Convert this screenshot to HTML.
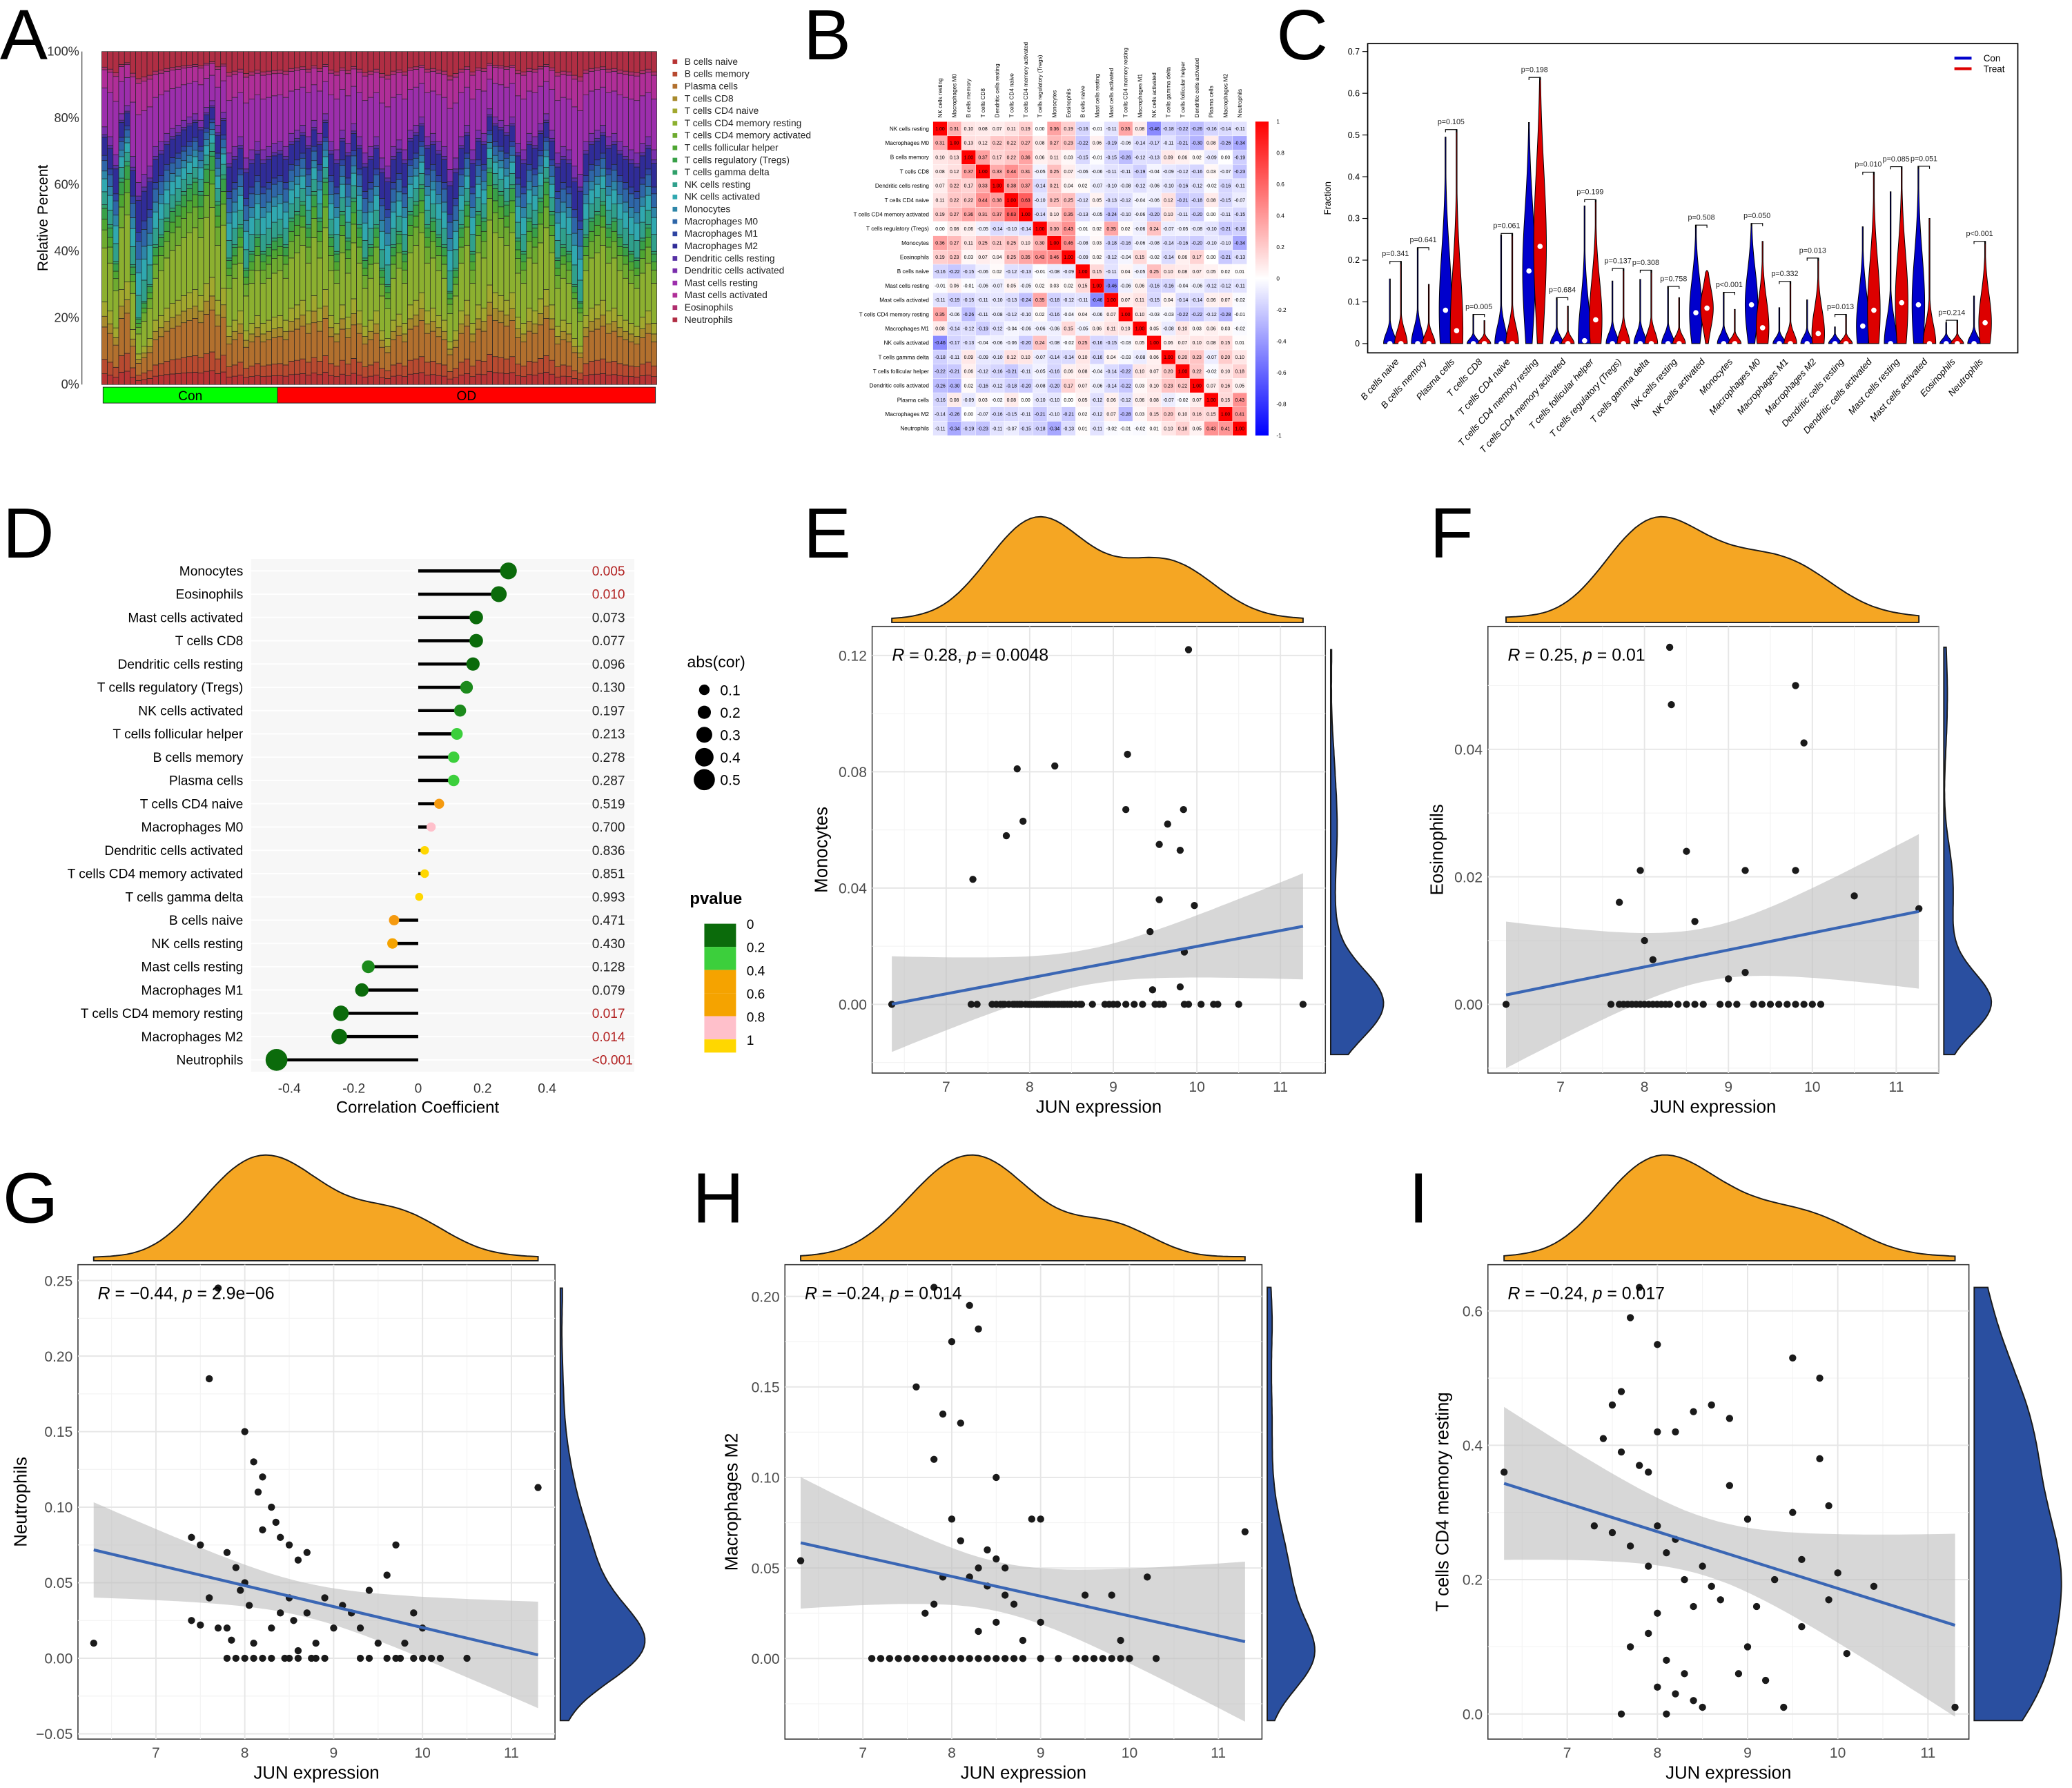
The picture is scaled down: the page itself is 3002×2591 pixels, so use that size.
<!DOCTYPE html>
<html><head><meta charset="utf-8"><title>Immune infiltration figure</title>
<style>
html,body{margin:0;padding:0;background:#fff;}
svg{display:block;font-family:"Liberation Sans",Arial,sans-serif;}
</style></head>
<body>
<svg id="fig" xmlns="http://www.w3.org/2000/svg" width="3002" height="2591" viewBox="0 0 1568 1353" preserveAspectRatio="none">
<rect x="0" y="0" width="1568" height="1353" fill="#fff"/>
<g font-size="54" fill="#000">
<text x="0" y="45">A</text>
<text x="608" y="45">B</text>
<text x="966" y="45">C</text>
<text x="2" y="422">D</text>
<text x="608" y="422">E</text>
<text x="1082" y="422">F</text>
<text x="2" y="925">G</text>
<text x="524" y="925">H</text>
<text x="1066" y="925">I</text>
</g>
</svg>
<script>
// ================= DATA =================
const cellTypes = ["B cells naive","B cells memory","Plasma cells","T cells CD8","T cells CD4 naive","T cells CD4 memory resting","T cells CD4 memory activated","T cells follicular helper","T cells regulatory (Tregs)","T cells gamma delta","NK cells resting","NK cells activated","Monocytes","Macrophages M0","Macrophages M1","Macrophages M2","Dendritic cells resting","Dendritic cells activated","Mast cells resting","Mast cells activated","Eosinophils","Neutrophils"];
const conShare = [54,48,37,62,67,36,20,25,30,42,45,50,53,55,58,60,62,58,66,70,55,63,38,42,48,35,40,45,40,42,44];
const odShare = [45,42,50,52,55,48,58,50,62,45,40,52,44,56,48,38,42,48,35,30,42,46,40,52,55,60,48,50,45,42,28,35,48,55,40,52,50,65,60,58,55,60,44,40,50,48,56,62,52,38,42,40,30,25,45,50,52,55,48,50,45,42,40,38,44,48,40];
const lowerWeights = [3,4,9,3,4,15,5,3,3,1];
const upperWeights = [5,5,3,4,2,7,1,3,15,7,1,6];
const corrLabels = ["NK cells resting","Macrophages M0","B cells memory","T cells CD8","Dendritic cells resting","T cells CD4 naive","T cells CD4 memory activated","T cells regulatory (Tregs)","Monocytes","Eosinophils","B cells naive","Mast cells resting","Mast cells activated","T cells CD4 memory resting","Macrophages M1","NK cells activated","T cells gamma delta","T cells follicular helper","Dendritic cells activated","Plasma cells","Macrophages M2","Neutrophils"];
const corrLower = [[],[0.31],[0.10,0.13],[0.08,0.12,0.37],[0.07,0.22,0.17,0.33],[0.11,0.22,0.22,0.44,0.38],[0.19,0.27,0.36,0.31,0.37,0.63],[0.00,0.08,0.06,-0.05,-0.14,-0.10,-0.14],[0.36,0.27,0.11,0.25,0.21,0.25,0.10,0.30],[0.19,0.23,0.03,0.07,0.04,0.25,0.35,0.43,0.46],[-0.16,-0.22,-0.15,-0.06,0.02,-0.12,-0.13,-0.01,-0.08,-0.09],[-0.01,0.06,-0.01,-0.06,-0.07,0.05,-0.05,0.02,0.03,0.02,0.15],[-0.11,-0.19,-0.15,-0.11,-0.10,-0.13,-0.24,0.35,-0.18,-0.12,-0.11,-0.46],[0.35,-0.06,-0.26,-0.11,-0.08,-0.12,-0.10,0.02,-0.16,-0.04,0.04,-0.06,0.07],[0.08,-0.14,-0.12,-0.19,-0.12,-0.04,-0.06,-0.06,-0.06,0.15,-0.05,0.06,0.11,0.10],[-0.46,-0.17,-0.13,-0.04,-0.06,-0.06,-0.20,0.24,-0.08,-0.02,0.25,-0.16,-0.15,-0.03,0.05],[-0.18,-0.11,0.09,-0.09,-0.10,0.12,0.10,-0.07,-0.14,-0.14,0.10,-0.16,0.04,-0.03,-0.08,0.06],[-0.22,-0.21,0.06,-0.12,-0.16,-0.21,-0.11,-0.05,-0.16,0.06,0.08,-0.04,-0.14,-0.22,0.10,0.07,0.20],[-0.26,-0.30,0.02,-0.16,-0.12,-0.18,-0.20,-0.08,-0.20,0.17,0.07,-0.06,-0.14,-0.22,0.03,0.10,0.23,0.22],[-0.16,0.08,-0.09,0.03,-0.02,0.08,0.00,-0.10,-0.10,0.00,0.05,-0.12,0.06,-0.12,0.06,0.08,-0.07,-0.02,0.07],[-0.14,-0.26,0.00,-0.07,-0.16,-0.15,-0.11,-0.21,-0.10,-0.21,0.02,-0.12,0.07,-0.28,0.03,0.15,0.20,0.10,0.16,0.15],[-0.11,-0.34,-0.19,-0.23,-0.11,-0.07,-0.15,-0.18,-0.34,-0.13,0.01,-0.11,-0.02,-0.01,-0.02,0.01,0.10,0.18,0.05,0.43,0.41]];
const cbTicks = [1,0.8,0.6,0.4,0.2,0,-0.2,-0.4,-0.6,-0.8,-1];
const conMax = [0.155,0.23,0.495,0.07,0.26,0.53,0.11,0.33,0.15,0.154,0.137,0.284,0.123,0.288,0.086,0.105,0.04,0.28,0.364,0.425,0.05,0.114];
const treatMax = [0.197,0.142,0.513,0.055,0.264,0.638,0.09,0.345,0.18,0.176,0.11,0.175,0.082,0.245,0.149,0.205,0.07,0.411,0.424,0.30,0.056,0.245];
const conMed = [0,0,0.08,0,0,0.174,0,0.007,0,0,0,0.074,0,0.093,0,0,0,0.042,0,0.093,0,0];
const treatMed = [0,0,0.031,0,0,0.233,0,0.057,0,0,0,0.085,0,0.038,0,0.024,0,0.08,0.098,0,0,0.05];
const pLabels = ["p=0.341","p=0.641","p=0.105","p=0.005","p=0.061","p=0.198","p=0.684","p=0.199","p=0.137","p=0.308","p=0.758","p=0.508","p<0.001","p=0.050","p=0.332","p=0.013","p=0.013","p=0.010","p=0.085","p=0.051","p=0.214","p<0.001"];
const cTicks = [0,0.1,0.2,0.3,0.4,0.5,0.6,0.7];
const lolNames = ["Monocytes","Eosinophils","Mast cells activated","T cells CD8","Dendritic cells resting","T cells regulatory (Tregs)","NK cells activated","T cells follicular helper","B cells memory","Plasma cells","T cells CD4 naive","Macrophages M0","Dendritic cells activated","T cells CD4 memory activated","T cells gamma delta","B cells naive","NK cells resting","Mast cells resting","Macrophages M1","T cells CD4 memory resting","Macrophages M2","Neutrophils"];
const lolCor = [0.28,0.25,0.18,0.18,0.17,0.15,0.13,0.12,0.11,0.11,0.065,0.04,0.02,0.02,0.003,-0.075,-0.08,-0.155,-0.175,-0.24,-0.245,-0.44];
const lolP = [0.005,0.010,0.073,0.077,0.096,0.130,0.197,0.213,0.278,0.287,0.519,0.700,0.836,0.851,0.993,0.471,0.430,0.128,0.079,0.017,0.014,0.0005];
const lolPText = ["0.005","0.010","0.073","0.077","0.096","0.130","0.197","0.213","0.278","0.287","0.519","0.700","0.836","0.851","0.993","0.471","0.430","0.128","0.079","0.017","0.014","<0.001"];
const lolTicks = [-0.4,-0.2,0,0.2,0.4];
const eX = [6.35,11.27,7.3,7.37,7.55,7.6,7.65,7.7,7.75,7.8,7.85,7.9,7.95,8.0,8.05,8.1,8.15,8.2,8.25,8.3,8.35,8.4,8.45,8.5,8.55,8.6,8.75,8.9,8.95,9.0,9.05,9.15,9.25,9.35,9.5,9.55,9.6,9.85,9.9,10.05,10.2,10.25,10.5,7.32,7.72,7.85,7.92,8.3,9.15,9.17,9.55,9.65,9.8,9.84,9.55,9.97,9.44,9.85,9.47,9.8,9.9,7.88,7.98,8.02,8.08,8.12,8.18,8.22,8.28,8.33,8.38,8.42,7.82,7.68,8.48,8.62];
const eY = [0,0,0,0,0,0,0,0,0,0,0,0,0,0,0,0,0,0,0,0,0,0,0,0,0,0,0,0,0,0,0,0,0,0,0,0,0,0,0,0,0,0,0,0.043,0.058,0.081,0.063,0.082,0.067,0.086,0.055,0.062,0.053,0.067,0.036,0.034,0.025,0.018,0.005,0.006,0.122,0,0,0,0,0,0,0,0,0,0,0,0,0,0,0];
const fX = [6.35,7.6,7.7,7.75,7.8,7.85,7.9,7.95,8.0,8.05,8.1,8.15,8.2,8.25,8.3,8.4,8.5,8.6,8.7,8.9,9.0,9.1,9.3,9.4,9.5,9.6,9.7,9.8,9.9,10.0,10.1,7.7,7.95,8.0,8.1,8.3,8.32,8.5,8.6,9.2,9.8,9.9,9.8,10.5,11.27,9.0,9.2];
const fY = [0,0,0,0,0,0,0,0,0,0,0,0,0,0,0,0,0,0,0,0,0,0,0,0,0,0,0,0,0,0,0,0.016,0.021,0.01,0.007,0.056,0.047,0.024,0.013,0.021,0.05,0.041,0.021,0.017,0.015,0.004,0.005];
const gX = [6.3,11.3,7.6,7.7,8.0,7.5,7.8,7.9,7.4,8.2,8.1,8.15,8.3,8.35,8.5,8.4,8.6,8.7,8.2,8.0,7.95,8.05,7.6,7.4,7.5,7.7,7.8,7.85,8.1,8.3,8.4,8.5,8.55,8.7,8.9,9.1,9.2,9.3,9.5,9.7,9.6,9.9,10.0,9.8,9.4,9.0,8.8,8.6,7.8,7.9,8.0,8.1,8.2,8.3,8.45,8.5,8.6,8.75,8.8,8.9,9.3,9.4,9.6,9.7,9.75,9.9,10.0,10.1,10.2,10.5];
const gY = [0.01,0.113,0.185,0.245,0.15,0.075,0.07,0.06,0.08,0.12,0.13,0.11,0.1,0.09,0.075,0.08,0.065,0.07,0.085,0.05,0.045,0.035,0.04,0.025,0.022,0.02,0.02,0.012,0.01,0.02,0.03,0.04,0.025,0.03,0.04,0.035,0.03,0.02,0.01,0.075,0.055,0.03,0.02,0.01,0.045,0.02,0.01,0.005,0,0,0,0,0,0,0,0,0,0,0,0,0,0,0,0,0,0,0,0,0,0];
const hX = [6.3,11.3,7.6,7.8,8.0,8.3,8.2,7.9,8.1,7.8,8.5,8.0,8.1,8.4,8.5,8.6,8.3,7.9,8.2,8.4,8.6,8.7,8.5,8.3,7.7,7.8,8.9,9.0,9.5,9.8,10.2,9.9,9.0,8.8,7.1,7.2,7.3,7.4,7.5,7.6,7.7,7.8,7.9,8.0,8.1,8.2,8.3,8.4,8.5,8.6,8.7,8.8,9.0,9.2,9.4,9.5,9.6,9.7,9.8,9.9,10.0,10.3];
const hY = [0.054,0.07,0.15,0.205,0.175,0.182,0.195,0.135,0.13,0.11,0.10,0.077,0.065,0.06,0.055,0.05,0.05,0.045,0.045,0.04,0.035,0.03,0.02,0.015,0.025,0.03,0.077,0.077,0.035,0.035,0.045,0.01,0.02,0.01,0,0,0,0,0,0,0,0,0,0,0,0,0,0,0,0,0,0,0,0,0,0,0,0,0,0,0,0];
const iX = [6.3,11.3,7.8,7.7,8.0,7.6,7.5,7.4,7.6,7.8,7.9,8.0,8.2,8.4,8.6,8.8,7.3,7.5,7.7,7.9,8.0,8.1,8.2,8.3,8.5,8.6,8.7,8.4,8.0,7.9,7.7,8.1,8.3,8.0,8.2,8.4,8.5,7.6,8.1,8.9,9.0,9.1,9.3,9.5,9.5,9.8,9.8,9.9,10.0,10.4,9.9,9.6,10.1,9.2,9.4,9.6,9.0,8.8];
const iY = [0.36,0.01,0.635,0.59,0.55,0.48,0.46,0.41,0.39,0.37,0.36,0.42,0.42,0.45,0.46,0.44,0.28,0.27,0.25,0.22,0.28,0.24,0.26,0.2,0.22,0.19,0.17,0.16,0.15,0.12,0.1,0.08,0.06,0.04,0.03,0.02,0.01,0,0,0.06,0.1,0.16,0.2,0.3,0.53,0.5,0.38,0.31,0.21,0.19,0.17,0.13,0.09,0.05,0.01,0.23,0.29,0.34];
const xTicksJun = [7,8,9,10,11];
const eYTicks = [0,0.04,0.08,0.12];
const fYTicks = [0,0.02,0.04];
const gYTicks = [-0.05,0,0.05,0.10,0.15,0.20,0.25];
const hYTicks = [0,0.05,0.10,0.15,0.20];
const iYTicks = [0,0.2,0.4,0.6];

// ================= HELPERS =================
const NS = 'http://www.w3.org/2000/svg';
const svg = document.getElementById('fig');
function mk(tag, attrs, parent, text) {
  const e = document.createElementNS(NS, tag);
  for (const k in attrs) e.setAttribute(k, attrs[k]);
  if (text !== undefined) e.textContent = text;
  (parent || svg).appendChild(e);
  return e;
}
function lin(d0, d1, r0, r1) { return v => r0 + (v - d0) * (r1 - r0) / (d1 - d0); }
function fmt(v){ return (Math.round(v*100)/100).toFixed(2); }

// ================= PANEL A =================
const typeColors = ["#b83434","#b84a30","#b2702e","#a88a2c","#a2a82e","#8cb030","#6eab30","#4ea632","#38a048","#30a06a","#30a08c","#30a8b0","#2e86a8","#2e66a8","#2e44a2","#302c98","#5630a4","#7a2eac","#9c2eac","#b02e98","#b02e6e","#b02e44"];
const gA = mk('g', {});


const aX0 = 77, aX1 = 497;
const aY = lin(0, 100, 291, 39);
const samples = conShare.concat(odShare);
const bw = (aX1 - aX0) / samples.length;
const lowSum = lowerWeights.reduce((a,b)=>a+b,0), upSum = upperWeights.reduce((a,b)=>a+b,0);
samples.forEach((share, si) => {
  let cum = 0;
  const parts = lowerWeights.map(w => w / lowSum * share).concat(upperWeights.map(w => w / upSum * (100 - share)));
  parts.forEach((p, ti) => {
    const r = mk('rect', {x: aX0 + si*bw, y: aY(cum + p), width: bw, height: aY(cum) - aY(cum + p), fill: typeColors[ti], stroke: '#222', 'stroke-width': 0.35}, gA);
    
    
    cum += p;
  });
});
[0,20,40,60,80,100].forEach(t => {
  const tx = mk('text', {x: 60, y: aY(t)+3, 'font-size': 9.5, 'text-anchor': 'end', fill: '#333'}, gA, t + '%');
  
  
});
const aAxis = mk('line', {x1: 62, y1: 39, x2: 62, y2: 291, stroke: '#333', 'stroke-width': 0.6}, gA);


const aYT = mk('text', {x: 36, y: 165, 'font-size': 11, 'text-anchor': 'middle', transform: 'rotate(-90 36 165)'}, gA, 'Relative Percent');


const conBar = mk('rect', {x: 78, y: 293, width: 132, height: 12, fill: '#00ff00', stroke: '#222', 'stroke-width': 0.5}, gA);


const odBar = mk('rect', {x: 210, y: 293, width: 286, height: 12, fill: '#ff0000', stroke: '#222', 'stroke-width': 0.5}, gA);


const conT = mk('text', {x: 144, y: 303, 'font-size': 10, 'text-anchor': 'middle'}, gA, 'Con');


const odT = mk('text', {x: 353, y: 303, 'font-size': 10, 'text-anchor': 'middle'}, gA, 'OD');


cellTypes.forEach((n, i) => {
  const y = 48 + i * 9.3;
  const sq = mk('rect', {x: 509, y: y - 3, width: 3.5, height: 3.5, fill: typeColors[i]}, gA);
  
  
  const lt = mk('text', {x: 518, y: y + 1, 'font-size': 7.2, fill: '#222'}, gA, n);
  
  
});

// ================= PANEL B =================
const gB = mk('g', {});


const bx0 = 706, by0 = 92, cs = 10.8;
function corrAt(i, j) {
  if (i === j) return 1;
  const a = Math.max(i,j), b = Math.min(i,j);
  const v = corrLower[a] && corrLower[a][b];
  return v === undefined ? 0 : v;
}
function corrColor(v) {
  const t = Math.min(1, Math.abs(v));
  const c = Math.round(255 * (1 - t));
  return v >= 0 ? `rgb(255,${c},${c})` : `rgb(${c},${c},255)`;
}
corrLabels.forEach((n, i) => {
  const rl = mk('text', {x: bx0 - 3, y: by0 + i*cs + cs/2 + 1.5, 'font-size': 4.3, 'text-anchor': 'end'}, gB, n);
  
  
  const cx = bx0 + i*cs + cs/2 + 1.5;
  const cl = mk('text', {x: cx, y: by0 - 3, 'font-size': 4.3, 'text-anchor': 'start', transform: `rotate(-90 ${cx} ${by0-3})`}, gB, n);
  
  
  corrLabels.forEach((m, j) => {
    const v = corrAt(i, j);
    const cell = mk('rect', {x: bx0 + j*cs, y: by0 + i*cs, width: cs, height: cs, fill: corrColor(v), stroke: '#fff', 'stroke-width': 0.2}, gB);
    
    
    const vt = mk('text', {x: bx0 + j*cs + cs/2, y: by0 + i*cs + cs/2 + 1.3, 'font-size': 3.6, 'text-anchor': 'middle', fill: '#000'}, gB, fmt(v));
    
    
  });
});
const defs = mk('defs', {});
const lg = mk('linearGradient', {id: 'cbgrad', x1: 0, y1: 0, x2: 0, y2: 1}, defs);
mk('stop', {offset: '0', 'stop-color': '#ff0000'}, lg);
mk('stop', {offset: '0.5', 'stop-color': '#ffffff'}, lg);
mk('stop', {offset: '1', 'stop-color': '#0000ff'}, lg);
const cbY = lin(1, -1, by0, by0 + 22*cs);
const cb = mk('rect', {x: 950, y: by0, width: 10, height: 22*cs, fill: 'url(#cbgrad)'}, gB);


cbTicks.forEach(t => {
  const ct = mk('text', {x: 966, y: cbY(t) + 1.5, 'font-size': 4.3}, gB, String(t));
  
  
});

// ================= PANEL C =================
const gC = mk('g', {});


const cY = lin(0, 0.7, 260, 39);
const cX = i => 1056 + i * 21.05;
const cBox = mk('rect', {x: 1035, y: 33, width: 492, height: 234, fill: 'none', stroke: '#000', 'stroke-width': 0.9}, gC);


cTicks.forEach(t => {
  const tl = mk('line', {x1: 1031, x2: 1035, y1: cY(t), y2: cY(t), stroke: '#000', 'stroke-width': 0.6}, gC);
  
  
  const tt = mk('text', {x: 1029, y: cY(t) + 2.2, 'font-size': 6.5, 'text-anchor': 'end'}, gC, String(t));
  
  
});
const cYT = mk('text', {x: 1007, y: 150, 'font-size': 7, 'text-anchor': 'middle', transform: 'rotate(-90 1007 150)'}, gC, 'Fraction');


function violinPath(cx, maxV, med) {
  const W = 4.8, sig = med > 0 ? Math.max(0.4*maxV, 0.04) : Math.max(0.22*maxV, 0.015);
  const n = 40, left = [], right = [];
  for (let k = 0; k <= n; k++) {
    const v = maxV * k / n;
    const w = Math.max(0.35, W * Math.exp(-Math.pow((v - med)/sig, 2)) * (k === n ? 0 : 1));
    right.push([cx + w, cY(v)]); left.push([cx - w, cY(v)]);
  }
  const pts = right.concat(left.reverse());
  return 'M' + pts.map(p => p[0].toFixed(2)+','+p[1].toFixed(2)).join('L') + 'Z';
}
cellTypes.forEach((n, i) => {
  const bxC = cX(i) - 4.2, bxT = cX(i) + 4.2;
  const vc = mk('path', {d: violinPath(bxC, conMax[i], conMed[i]), fill: '#0000cc', stroke: '#000', 'stroke-width': 0.5}, gC);
  
  
  const vt = mk('path', {d: violinPath(bxT, treatMax[i], treatMed[i]), fill: '#dd0000', stroke: '#000', 'stroke-width': 0.5}, gC);
  
  
  const mc = mk('circle', {cx: bxC, cy: cY(conMed[i]), r: 2, fill: '#fff'}, gC);
  
  
  const mt = mk('circle', {cx: bxT, cy: cY(treatMed[i]), r: 2, fill: '#fff'}, gC);
  
  
  const top = cY(Math.max(conMax[i], treatMax[i]));
  const br = mk('path', {d: `M${bxC},${top+2}L${bxC},${top}L${bxT},${top}L${bxT},${top+2}`, fill: 'none', stroke: '#000', 'stroke-width': 0.6}, gC);
  
  
  const pt = mk('text', {x: cX(i), y: top - 4, 'font-size': 5.6, 'text-anchor': 'middle', fill: '#222'}, gC, pLabels[i]);
  
  
  const xl = mk('text', {x: cX(i) + 3, y: 274, 'font-size': 7, 'font-style': 'italic', 'text-anchor': 'end', transform: `rotate(-48 ${cX(i)+3} 274)`}, gC, n);
  
  
});
const lgC1 = mk('line', {x1: 1479, x2: 1492, y1: 44, y2: 44, stroke: '#0000cc', 'stroke-width': 2.2}, gC);


const lgC2 = mk('line', {x1: 1479, x2: 1492, y1: 52, y2: 52, stroke: '#dd0000', 'stroke-width': 2.2}, gC);


const lgCt1 = mk('text', {x: 1501, y: 46.5, 'font-size': 7}, gC, 'Con');


const lgCt2 = mk('text', {x: 1501, y: 54.5, 'font-size': 7}, gC, 'Treat');



// ================= PANEL D =================
const gD = mk('g', {});


const dX = lin(-0.4, 0.4, 219, 414);
const dY = i => 432 + i * 17.62;
const dBg = mk('rect', {x: 190, y: 423, width: 290, height: 388, fill: '#f7f7f7'}, gD);


function pColor(p) {
  if (p < 0.1) return '#0b6b0b';
  if (p < 0.2) return '#1c8a1c';
  if (p < 0.3) return '#3ccf3c';
  if (p < 0.45) return '#f5a300';
  if (p < 0.6) return '#f59a10';
  if (p < 0.75) return '#ffc0cb';
  return '#ffd700';
}
lolNames.forEach((n, i) => {
  const gl = mk('line', {x1: 190, x2: 480, y1: dY(i), y2: dY(i), stroke: '#fff', 'stroke-width': 1}, gD);
  
  
  const st = mk('line', {x1: dX(0), x2: dX(lolCor[i]), y1: dY(i), y2: dY(i), stroke: '#000', 'stroke-width': 2.4}, gD);
  
  
  const r = 3 + Math.abs(lolCor[i]) * 12;
  const dot = mk('circle', {cx: dX(lolCor[i]), cy: dY(i), r: r, fill: pColor(lolP[i])}, gD);
  
  
  const lb = mk('text', {x: 184, y: dY(i) + 3.5, 'font-size': 10, 'text-anchor': 'end'}, gD, n);
  
  
  const pv = mk('text', {x: 448, y: dY(i) + 3.5, 'font-size': 10, fill: lolP[i] < 0.05 ? '#b22222' : '#222'}, gD, lolPText[i]);
  
  
});
lolTicks.forEach(t => {
  const tt = mk('text', {x: dX(t), y: 827, 'font-size': 10, 'text-anchor': 'middle', fill: '#333'}, gD, String(t));
  
  
});
const dXT = mk('text', {x: 316, y: 842, 'font-size': 12.5, 'text-anchor': 'middle'}, gD, 'Correlation Coefficient');


const sizeLegT = mk('text', {x: 520, y: 505, 'font-size': 12}, gD, 'abs(cor)');


[0.1,0.2,0.3,0.4,0.5].forEach((s, k) => {
  const y = 522 + k * 17;
  const c = mk('circle', {cx: 533, cy: y, r: 3 + s*10, fill: '#000'}, gD);
  
  
  const t = mk('text', {x: 545, y: y + 4, 'font-size': 11}, gD, String(s));
  
  
});
const pLegT = mk('text', {x: 522, y: 684, 'font-size': 12.5, 'font-weight': 'bold'}, gD, 'pvalue');


const pCols = ['#0b6b0b','#3ccf3c','#f5a300','#f5a300','#ffc0cb','#ffd700'];
pCols.forEach((c, k) => {
  const r = mk('rect', {x: 533, y: 699 + k*17.5, width: 24, height: k===5?10:17.5, fill: c}, gD);
  
  
});
[0,0.2,0.4,0.6,0.8,1].forEach((v, k) => {
  const t = mk('text', {x: 565, y: 703 + k*17.5, 'font-size': 10}, gD, String(v));
  
  
});

// ================= SCATTER PANELS =================
function kde(vals, bw, x) { let s = 0; for (const v of vals) { const z = (x - v)/bw; s += Math.exp(-0.5*z*z); } return s; }
function silverman(vals) {
  const n = vals.length, m = vals.reduce((a,b)=>a+b,0)/n;
  const sd = Math.sqrt(vals.reduce((a,b)=>a+(b-m)*(b-m),0)/(n-1));
  const s = vals.slice().sort((a,b)=>a-b);
  const iqr = s[Math.floor(0.75*n)] - s[Math.floor(0.25*n)];
  return 0.9 * Math.min(sd, iqr/1.34 || sd) * Math.pow(n, -0.2);
}
function scatterPanel(cfg) {
  const g = mk('g', {});
  
  
  const X = lin(7, 11, cfg.x7, cfg.x11), Y = lin(cfg.yt[0], cfg.yt[cfg.yt.length-1], cfg.yb, cfg.ytop);
  const frame = mk('rect', {x: cfg.x1, y: cfg.y1, width: cfg.x2-cfg.x1, height: cfg.y2-cfg.y1, fill: '#fff', stroke: '#333', 'stroke-width': 0.8}, g);
  
  
  const step = cfg.yt[1] - cfg.yt[0];
  for (let v = 6.5; v <= 11.5; v += 1) if (X(v) > cfg.x1 && X(v) < cfg.x2) {
    const m = mk('line', {x1: X(v), x2: X(v), y1: cfg.y1, y2: cfg.y2, stroke: '#f3f3f3', 'stroke-width': 0.6}, g);
    
    
  }
  for (let k = -1; k < cfg.yt.length; k++) { const v = cfg.yt[0] + (k+0.5)*step; if (Y(v) > cfg.y1 && Y(v) < cfg.y2) {
    const m = mk('line', {x1: cfg.x1, x2: cfg.x2, y1: Y(v), y2: Y(v), stroke: '#f3f3f3', 'stroke-width': 0.6}, g);
    
    
  } }
  xTicksJun.forEach(t => {
    const l = mk('line', {x1: X(t), x2: X(t), y1: cfg.y1, y2: cfg.y2, stroke: '#e6e6e6', 'stroke-width': 1}, g);
    
    
    const tt = mk('text', {x: X(t), y: cfg.y2 + 14, 'font-size': 11, 'text-anchor': 'middle', fill: '#4d4d4d'}, g, String(t));
    
    
  });
  cfg.yt.forEach(t => {
    const l = mk('line', {x1: cfg.x1, x2: cfg.x2, y1: Y(t), y2: Y(t), stroke: '#e6e6e6', 'stroke-width': 1}, g);
    
    
    const tt = mk('text', {x: cfg.x1 - 4, y: Y(t) + 4, 'font-size': 11, 'text-anchor': 'end', fill: '#4d4d4d'}, g, cfg.fmt(t));
    
    
  });
  const xs = cfg.xs, ys = cfg.ys, n = xs.length;
  const mx = xs.reduce((a,b)=>a+b,0)/n, my = ys.reduce((a,b)=>a+b,0)/n;
  let sxx = 0, sxy = 0; xs.forEach((x,k)=>{ sxx += (x-mx)*(x-mx); sxy += (x-mx)*(ys[k]-my); });
  const b = sxy/sxx, a = my - b*mx;
  let sse = 0; xs.forEach((x,k)=>{ const e = ys[k]-(a+b*x); sse += e*e; });
  const s = Math.sqrt(sse/(n-2));
  const xmin = Math.min(...xs), xmax = Math.max(...xs);
  const up = [], lo = [];
  for (let k = 0; k <= 40; k++) { const x = xmin + (xmax-xmin)*k/40; const se = 1.98*s*Math.sqrt(1/n + (x-mx)*(x-mx)/sxx); up.push([X(x), Y(a+b*x+se)]); lo.push([X(x), Y(a+b*x-se)]); }
  const band = mk('path', {d: 'M' + up.concat(lo.reverse()).map(p=>p[0].toFixed(1)+','+p[1].toFixed(1)).join('L') + 'Z', fill: '#bdbdbd', 'fill-opacity': 0.6}, g);
  
  
  xs.forEach((x, k) => {
    const c = mk('circle', {cx: X(x), cy: Y(ys[k]), r: 2.7, fill: '#1a1a1a'}, g);
    
    
  });
  const fl = mk('line', {x1: X(xmin), y1: Y(a+b*xmin), x2: X(xmax), y2: Y(a+b*xmax), stroke: '#3a66b4', 'stroke-width': 2.2}, g);
  
  
  const st = mk('text', {x: cfg.x1 + 15, y: cfg.y1 + 26, 'font-size': 13}, g);
  
  
  mk('tspan', {'font-style': 'italic'}, st, 'R');
  mk('tspan', {}, st, ' = ' + cfg.r + ', ');
  mk('tspan', {'font-style': 'italic'}, st, 'p');
  mk('tspan', {}, st, ' = ' + cfg.p);
  const xt = mk('text', {x: (cfg.x1+cfg.x2)/2, y: cfg.y2 + 30, 'font-size': 13.5, 'text-anchor': 'middle'}, g, 'JUN expression');
  
  
  const yx = cfg.ylx, yy = (cfg.y1+cfg.y2)/2;
  const yt = mk('text', {x: yx, y: yy, 'font-size': 13.5, 'text-anchor': 'middle', transform: `rotate(-90 ${yx} ${yy})`}, g, cfg.ylab);
  
  
  // top density
  const bwx = silverman(xs) * 1.25; const tp = []; let tmax = 0;
  for (let k = 0; k <= 80; k++) { const x = xmin + (xmax-xmin)*k/80; const d = kde(xs, bwx, x); tp.push([x,d]); tmax = Math.max(tmax, d); }
  const base = cfg.y1 - 3;
  const td = mk('path', {d: 'M' + X(xmin) + ',' + base + tp.map(p => 'L' + X(p[0]).toFixed(1) + ',' + (base - p[1]/tmax*cfg.topH).toFixed(1)).join('') + 'L' + X(xmax) + ',' + base + 'Z', fill: '#f5a623', stroke: '#1a1a1a', 'stroke-width': 1}, g);
  
  
  // right density (clamped to plot frame)
  const bwy = (silverman(ys) || 0.01) * 1.15; const ymin = Math.min(...ys), ymax = Math.max(...ys);
  const yLowFrame = cfg.yt[0] + (cfg.yt[cfg.yt.length-1]-cfg.yt[0]) * (cfg.yb - cfg.y2 + 14) / (cfg.yb - cfg.ytop);
  const lo2 = Math.max(ymin - 2*bwy, yLowFrame); const rp = []; let rmax = 0;
  for (let k = 0; k <= 100; k++) { const y = lo2 + (ymax-lo2)*k/100; const d = kde(ys, bwy, y); rp.push([y,d]); rmax = Math.max(rmax, d); }
  const rb = cfg.x2 + 4;
  const rd = mk('path', {d: 'M' + rb + ',' + Y(lo2) + rp.map(p => 'L' + (rb + p[1]/rmax*cfg.rightW).toFixed(1) + ',' + Y(p[0]).toFixed(1)).join('') + 'L' + rb + ',' + Y(ymax) + 'Z', fill: '#2a4fa0', stroke: '#1a1a1a', 'stroke-width': 1}, g);
  
  
}
const f2 = v => v.toFixed(2), f2s = v => (v < 0 ? '\u22120.05' : v.toFixed(2)), f1 = v => v.toFixed(1);
scatterPanel({name:'panel-e-monocytes', xs:eX, ys:eY, x1:660, x2:1003, y1:474, y2:812, x7:716, x11:969, yt:eYTicks, yb:760, ytop:496, fmt:f2, r:'0.28', p:'0.0048', ylab:'Monocytes', ylx:626, topH:80, rightW:40});
scatterPanel({name:'panel-f-eosinophils', xs:fX, ys:fY, x1:1126, x2:1467, y1:474, y2:812, x7:1181, x11:1435, yt:fYTicks, yb:760, ytop:567, fmt:f2, r:'0.25', p:'0.01', ylab:'Eosinophils', ylx:1092, topH:80, rightW:36});
scatterPanel({name:'panel-g-neutrophils', xs:gX, ys:gY, x1:59, x2:420, y1:957, y2:1316, x7:118, x11:387, yt:gYTicks, yb:1312, ytop:969, fmt:f2s, r:'\u22120.44', p:'2.9e\u221206', ylab:'Neutrophils', ylx:20, topH:80, rightW:64});
scatterPanel({name:'panel-h-macrophages-m2', xs:hX, ys:hY, x1:594, x2:955, y1:957, y2:1316, x7:653, x11:922, yt:hYTicks, yb:1255, ytop:981, fmt:f2, r:'\u22120.24', p:'0.014', ylab:'Macrophages M2', ylx:558, topH:80, rightW:36});
scatterPanel({name:'panel-i-cd4-memory-resting', xs:iX, ys:iY, x1:1126, x2:1490, y1:957, y2:1316, x7:1186, x11:1459, yt:iYTicks, yb:1297, ytop:992, fmt:f1, r:'\u22120.24', p:'0.017', ylab:'T cells CD4 memory resting', ylx:1096, topH:80, rightW:66});
</script>
</body></html>
